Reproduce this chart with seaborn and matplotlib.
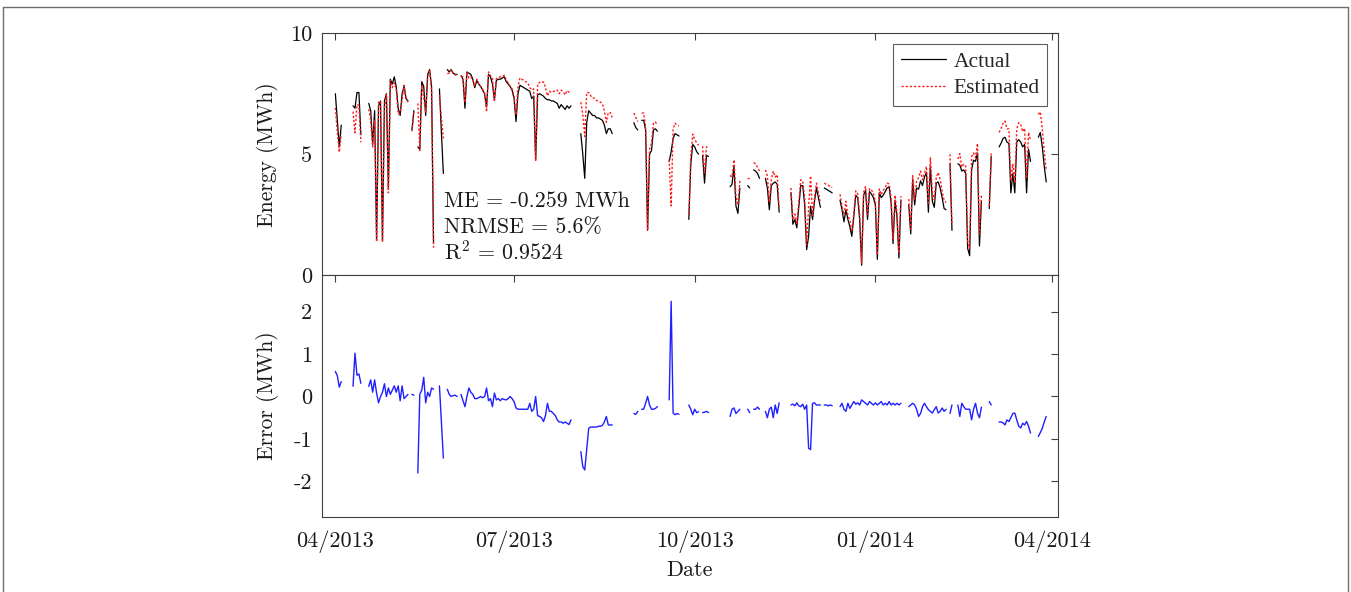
import numpy as np
import pandas as pd
import matplotlib
matplotlib.use("Agg")
import matplotlib.pyplot as plt
import matplotlib.dates as mdates
from matplotlib.lines import Line2D
import seaborn as sns

nan = np.nan
start_date = "2013-04-01"   # first day of the daily series

# Actual daily energy (MWh); NaN = missing day
actual = [
    7.5, 6.4, 5.3, 6.2, nan, nan, nan, nan, nan, 7.0,
    6.9, 7.55, 7.55, 5.8, nan, nan, nan, 7.1, 6.8, 5.4,
    6.8, 1.45, 7.0, 7.2, 1.45, 7.2, 7.5, 3.6, 8.1, 7.9,
    8.2, 7.8, 6.9, 6.6, 7.5, 7.8, 7.3, 7.2, nan, 6.0,
    6.8, nan, 5.3, 5.2, 8.0, 7.8, 6.6, 8.3, 8.5, 7.8,
    1.3, nan, nan, 7.7, 5.9, 4.2, nan, 8.5, 8.4, 8.5,
    8.35, 8.3, 8.3, nan, 8.25, 8.1, 6.9, 8.4, 8.35, 8.3,
    8.1, 7.75, 8.05, 7.9, 7.8, 7.65, 7.5, 6.95, 8.3, 8.2,
    7.9, 7.25, 8.05, 8.1, 8.1, 8.15, 8.2, 8.0, 7.9, 7.8,
    7.65, 7.3, 6.35, 7.5, 7.85, 7.8, 7.75, 7.7, 7.65, 7.6,
    7.3, 7.4, 4.75, 7.45, 7.5, 7.45, 7.4, 7.3, 7.25, 7.25,
    7.2, 7.2, 7.15, 7.1, 6.9, 7.05, 6.95, 6.85, 7.0, 6.9,
    7.0, nan, nan, nan, nan, 5.85, 5.0, 4.0, 6.3, 6.8,
    6.7, 6.6, 6.6, 6.5, 6.5, 6.45, 6.4, 6.2, 5.85, 6.05,
    6.05, 5.85, nan, nan, nan, nan, nan, nan, nan, nan,
    nan, nan, 6.3, 6.1, 6.0, nan, 6.4, 6.4, 6.0, 1.85,
    5.0, 5.15, 6.0, 6.05, 5.95, nan, nan, nan, nan, nan,
    4.7, 5.1, 5.65, 5.85, 5.8, 5.75, nan, nan, nan, nan,
    2.3, 4.6, 5.4, 5.3, 5.1, 5.0, nan, 4.95, 3.8, 4.95,
    4.9, nan, nan, nan, nan, nan, nan, nan, nan, nan,
    nan, 3.65, 3.75, 4.5, 2.85, 2.55, 3.6, nan, nan, nan,
    3.7, 3.6, nan, 4.35, 4.3, 4.2, 4.0, nan, nan, 4.0,
    3.6, 2.7, 3.7, 3.8, 3.85, 3.75, 2.6, nan, nan, nan,
    nan, nan, 3.4, 2.1, 2.3, 1.95, 2.8, 3.7, 3.7, 2.9,
    1.05, 1.6, 2.85, 2.3, 3.05, 3.6, 3.2, 2.8, nan, 3.6,
    3.55, 3.5, 3.45, 3.4, nan, nan, nan, 3.1, 2.7, 2.2,
    2.7, 2.3, 2.0, 1.6, 2.4, 3.3, 3.2, 2.3, 0.4, 3.3,
    3.5, 2.3, 3.45, 3.35, 3.2, 2.9, 0.65, 3.4, 3.2, 3.3,
    3.45, 3.6, 3.65, 3.0, 1.3, 3.1, 2.4, 0.7, 3.1, nan,
    nan, nan, 2.9, 1.7, 3.95, 2.9, 3.6, 3.55, 3.9, 3.7,
    4.05, 4.25, 2.6, 4.5, 3.05, 2.8, 3.8, 3.85, 3.6, 3.2,
    2.75, 2.7, nan, 4.6, 1.85, nan, nan, 4.6, 4.55, 4.3,
    4.35, 4.2, 1.1, 0.8, 4.35, 4.75, 4.7, 5.05, 1.2, 3.05,
    nan, nan, nan, 2.75, 4.9, nan, nan, nan, 5.3, 5.45,
    5.65, 5.7, 5.5, 5.45, 3.4, 4.2, 3.4, 5.5, 5.6, 5.5,
    5.3, 5.4, 3.4, 5.2, 4.7, nan, nan, nan, 5.7, 5.9,
    5.3, 4.5, 3.85,
]

# Estimated daily energy (MWh)
estimated = [
    6.91, 5.91, 5.08, 5.85, nan, nan, nan, nan, nan, 6.76,
    5.88, 7.05, 7.02, 5.49, nan, nan, nan, 6.86, 6.41, 5.3,
    6.41, 1.37, 7.15, 7.2, 1.35, 6.9, 7.5, 3.4, 8.05, 7.75,
    7.95, 7.7, 6.65, 6.7, 7.25, 7.85, 7.3, 7.15, nan, 5.95,
    6.77, nan, 7.1, 5.15, 7.85, 7.35, 6.75, 8.2, 8.5, 7.6,
    1.13, nan, nan, 7.45, 6.5, 5.65, nan, 8.33, 8.35, 8.5,
    8.33, 8.27, 8.3, nan, 8.2, 8.2, 7.14, 8.4, 8.15, 8.2,
    8.05, 7.8, 8.1, 7.93, 7.8, 7.68, 7.5, 6.75, 8.4, 8.25,
    8.14, 7.17, 8.13, 8.15, 8.2, 8.2, 8.27, 8.08, 7.95, 7.8,
    7.7, 7.42, 6.62, 7.8, 8.15, 8.1, 8.05, 8.0, 7.95, 7.76,
    7.65, 7.7, 4.75, 7.9, 7.97, 7.95, 7.99, 7.75, 7.41, 7.6,
    7.55, 7.6, 7.6, 7.65, 7.5, 7.65, 7.58, 7.45, 7.63, 7.56,
    7.55, nan, nan, nan, nan, 7.15, 6.65, 5.73, 7.55, 7.55,
    7.42, 7.32, 7.32, 7.22, 7.2, 7.15, 7.08, 6.8, 6.32, 6.72,
    6.72, 6.52, nan, nan, nan, nan, nan, nan, nan, nan,
    nan, nan, 6.7, 6.52, 6.35, nan, 6.7, 6.7, 6.16, 1.85,
    5.2, 5.45, 6.3, 6.33, 6.19, nan, nan, nan, nan, nan,
    4.78, 2.86, 6.04, 6.28, 6.2, 6.17, nan, nan, nan, nan,
    2.5, 4.9, 5.83, 5.6, 5.48, 5.36, nan, 5.33, 4.17, 5.3,
    5.28, nan, nan, nan, nan, nan, nan, nan, nan, nan,
    nan, 4.12, 4.05, 4.77, 3.25, 2.9, 3.9, nan, nan, nan,
    4.0, 3.98, nan, 4.65, 4.6, 4.45, 4.3, nan, nan, 4.35,
    4.1, 3.0, 3.95, 4.3, 4.05, 4.15, 2.75, nan, nan, nan,
    nan, nan, 3.6, 2.28, 2.52, 2.1, 3.02, 3.94, 3.88, 3.2,
    1.25, 2.82, 4.1, 2.46, 3.2, 3.8, 3.4, 3.0, nan, 3.8,
    3.75, 3.72, 3.65, 3.62, nan, nan, nan, 3.34, 2.86, 2.5,
    3.05, 2.46, 2.28, 1.8, 2.52, 3.48, 3.35, 2.5, 0.48, 3.42,
    3.66, 2.5, 3.57, 3.51, 3.4, 3.05, 0.85, 3.56, 3.32, 3.5,
    3.61, 3.8, 3.77, 3.2, 1.46, 3.3, 2.56, 0.9, 3.26, nan,
    nan, nan, 3.14, 1.9, 4.11, 3.1, 3.9, 4.02, 4.3, 3.94,
    4.21, 4.49, 2.91, 4.85, 3.44, 3.11, 4.04, 4.24, 3.95, 3.47,
    3.1, 3.0, nan, 5.0, 2.05, nan, nan, 4.8, 5.02, 4.46,
    4.59, 4.5, 1.4, 1.1, 4.9, 5.05, 4.86, 5.44, 1.7, 3.3,
    nan, nan, nan, 2.87, 5.1, nan, nan, nan, 5.9, 6.05,
    6.27, 6.37, 6.05, 6.04, 3.9, 4.6, 3.79, 6.05, 6.3, 6.24,
    5.93, 6.07, 3.99, 5.9, 5.56, nan, nan, nan, 6.64, 6.75,
    6.05, 5.1, 4.32,
]

# Error (MWh)
error = [
    0.59, 0.49, 0.22, 0.35, nan, nan, nan, nan, nan, 0.24,
    1.02, 0.5, 0.53, 0.31, nan, nan, nan, 0.24, 0.39, 0.1,
    0.39, 0.08, -0.15, 0.0, 0.1, 0.3, 0.0, 0.2, 0.05, 0.15,
    0.25, 0.1, 0.25, -0.1, 0.25, -0.05, 0.0, 0.05, nan, 0.05,
    0.03, nan, -1.8, 0.05, 0.15, 0.45, -0.15, 0.1, 0.0, 0.2,
    0.17, nan, nan, 0.25, -0.6, -1.45, nan, 0.17, 0.05, 0.0,
    0.02, 0.03, 0.0, nan, 0.05, -0.1, -0.24, 0.0, 0.2, 0.1,
    0.05, -0.05, -0.05, -0.03, 0.0, -0.03, 0.0, 0.2, -0.1, -0.05,
    -0.24, 0.08, -0.08, -0.05, -0.1, -0.05, -0.07, -0.08, -0.05, 0.0,
    -0.05, -0.12, -0.27, -0.3, -0.3, -0.3, -0.3, -0.3, -0.3, -0.16,
    -0.35, -0.3, 0.0, -0.45, -0.47, -0.5, -0.59, -0.45, -0.16, -0.35,
    -0.35, -0.4, -0.45, -0.55, -0.6, -0.6, -0.63, -0.6, -0.63, -0.66,
    -0.55, nan, nan, nan, nan, -1.3, -1.65, -1.73, -1.25, -0.75,
    -0.72, -0.72, -0.72, -0.72, -0.7, -0.7, -0.68, -0.6, -0.47, -0.67,
    -0.67, -0.67, nan, nan, nan, nan, nan, nan, nan, nan,
    nan, nan, -0.4, -0.42, -0.35, nan, -0.3, -0.3, -0.16, 0.0,
    -0.2, -0.3, -0.3, -0.28, -0.24, nan, nan, nan, nan, nan,
    -0.08, 2.24, -0.39, -0.43, -0.4, -0.42, nan, nan, nan, nan,
    -0.2, -0.3, -0.43, -0.3, -0.38, -0.36, nan, -0.38, -0.37, -0.35,
    -0.38, nan, nan, nan, nan, nan, nan, nan, nan, nan,
    nan, -0.47, -0.3, -0.27, -0.4, -0.35, -0.3, nan, nan, nan,
    -0.3, -0.38, nan, -0.3, -0.3, -0.25, -0.3, nan, nan, -0.35,
    -0.5, -0.3, -0.25, -0.5, -0.2, -0.4, -0.15, nan, nan, nan,
    nan, nan, -0.2, -0.18, -0.22, -0.15, -0.22, -0.24, -0.18, -0.3,
    -0.2, -1.22, -1.25, -0.16, -0.15, -0.2, -0.2, -0.2, nan, -0.2,
    -0.2, -0.22, -0.2, -0.22, nan, nan, nan, -0.24, -0.16, -0.3,
    -0.35, -0.16, -0.28, -0.2, -0.12, -0.18, -0.15, -0.2, -0.08, -0.12,
    -0.16, -0.2, -0.12, -0.16, -0.2, -0.15, -0.2, -0.16, -0.12, -0.2,
    -0.16, -0.2, -0.12, -0.2, -0.16, -0.2, -0.16, -0.2, -0.16, nan,
    nan, nan, -0.24, -0.2, -0.16, -0.2, -0.3, -0.47, -0.4, -0.24,
    -0.16, -0.24, -0.31, -0.35, -0.39, -0.31, -0.24, -0.39, -0.35, -0.27,
    -0.35, -0.3, nan, -0.4, -0.2, nan, nan, -0.2, -0.47, -0.16,
    -0.24, -0.3, -0.3, -0.3, -0.55, -0.3, -0.16, -0.39, -0.5, -0.25,
    nan, nan, nan, -0.12, -0.2, nan, nan, nan, -0.6, -0.6,
    -0.62, -0.67, -0.55, -0.59, -0.5, -0.4, -0.39, -0.55, -0.7, -0.74,
    -0.63, -0.67, -0.59, -0.7, -0.86, nan, nan, nan, -0.94, -0.85,
    -0.75, -0.6, -0.47,
]

date_ticks = ["2013-04-01", "2013-07-01", "2013-10-01", "2014-01-01", "2014-04-01"]
energy_ticks = [0, 5, 10]
error_ticks = [-2, -1, 0, 1, 2]
error_tick_labels = ["-2", "-1", "0", "1", "2"]
stats_lines = ["ME = -0.259 MWh", "NRMSE = 5.6%", "R$^2$ = 0.9524"]
legend_labels = ["Actual", "Estimated"]

# ---------------------------------------------------------------- style
sns.set_theme(style="white")
plt.rcParams["font.family"] = ["cmr10", "DejaVu Serif"]
plt.rcParams["mathtext.fontset"] = "cm"
plt.rcParams["axes.unicode_minus"] = False
plt.rcParams["axes.formatter.use_mathtext"] = True

SPINE = "#404040"
TXT = "#1a1a1a"


def segments(values, name):
    dates = pd.date_range(start_date, periods=len(values), freq="D")
    s = pd.Series(values, index=dates, dtype=float)
    seg = s.isna().cumsum()
    df = pd.DataFrame({"date": dates, name: s.values, "seg": seg.values})
    return df.dropna()


df_a = segments(actual, "val")
df_e = segments(estimated, "val")
df_r = segments(error, "val")

fig = plt.figure(figsize=(13.51, 5.92), dpi=100)
L, R = 322 / 1351, 1058 / 1351
ax1 = fig.add_axes([L, 1 - 275 / 592, R - L, (275 - 33.3) / 592])
ax2 = fig.add_axes([L, 1 - 516.7 / 592, R - L, (516.7 - 275) / 592], sharex=ax1)

sns.lineplot(data=df_a, x="date", y="val", units="seg", estimator=None,
             color="black", lw=0.9, ax=ax1, legend=False)
sns.lineplot(data=df_e, x="date", y="val", units="seg", estimator=None,
             color="#ff1a1a", lw=1.0, ls=(0, (1.6, 1.4)), ax=ax1, legend=False)
sns.lineplot(data=df_r, x="date", y="val", units="seg", estimator=None,
             color="#1f1fff", lw=1.0, ax=ax2, legend=False)

x0 = pd.Timestamp(start_date) - pd.Timedelta(days=6.8)
x1 = pd.Timestamp(date_ticks[-1]) + pd.Timedelta(days=3.0)
ax1.set_xlim(x0, x1)
ax1.set_ylim(0, 10)
ax2.set_ylim(-2.83, 2.86)

tick_dates = pd.to_datetime(date_ticks)
for ax in (ax1, ax2):
    ax.set_xticks(tick_dates)
    ax.tick_params(direction="in", top=True, right=True, length=5, width=0.8,
                   color=SPINE, labelcolor=TXT, labelsize=16, pad=7)
    for sp in ax.spines.values():
        sp.set_color(SPINE)
        sp.set_linewidth(0.8)
    ax.set_facecolor("white")

ax2.tick_params(axis="x", pad=10)
ax1.set_yticks(energy_ticks)
ax1.set_yticklabels([str(v) for v in energy_ticks])
ax2.set_yticks(error_ticks)
ax2.set_yticklabels(error_tick_labels)
ax2.xaxis.set_major_formatter(mdates.DateFormatter("%m/%Y"))
ax1.tick_params(labelbottom=False)

ax1.set_xlabel("")
ax1.set_ylabel("Energy (MWh)", fontsize=15.5, color=TXT)
ax2.set_ylabel("Error (MWh)", fontsize=15.5, color=TXT)
ax2.set_xlabel("Date", fontsize=16, color=TXT, labelpad=5)
ax1.yaxis.set_label_coords(-0.059, 0.5)
ax2.yaxis.set_label_coords(-0.059, 0.5)

# statistics text
for txt, yb in zip(stats_lines, [0.2826, 0.1725, 0.065]):
    ax1.text(0.1651, yb, txt, transform=ax1.transAxes, fontsize=15.8,
             color=TXT, va="baseline", ha="left")

# legend
handles = [Line2D([], [], color="black", lw=0.9),
           Line2D([], [], color="#ff1a1a", lw=1.0, ls=(0, (1.6, 1.4)))]
leg = ax1.legend(handles, legend_labels, loc="upper right",
                 prop={"family": "Liberation Serif", "size": 15.5},
                 frameon=True, fancybox=False, edgecolor="#333333",
                 borderaxespad=0.5, handlelength=2.1, handletextpad=0.35,
                 labelspacing=0.3, borderpad=0.35)
leg.get_frame().set_linewidth(0.8)

# thin page frame
for xs, ys in [([3 / 1351, 1348 / 1351], [1 - 7 / 592, 1 - 7 / 592]),
               ([3 / 1351, 3 / 1351], [1 - 7 / 592, 0]),
               ([1348 / 1351, 1348 / 1351], [1 - 7 / 592, 0])]:
    fig.add_artist(Line2D(xs, ys, transform=fig.transFigure,
                          color="#6e6e6e", lw=1.0))

fig.savefig("out.png", dpi=100, facecolor="white")
